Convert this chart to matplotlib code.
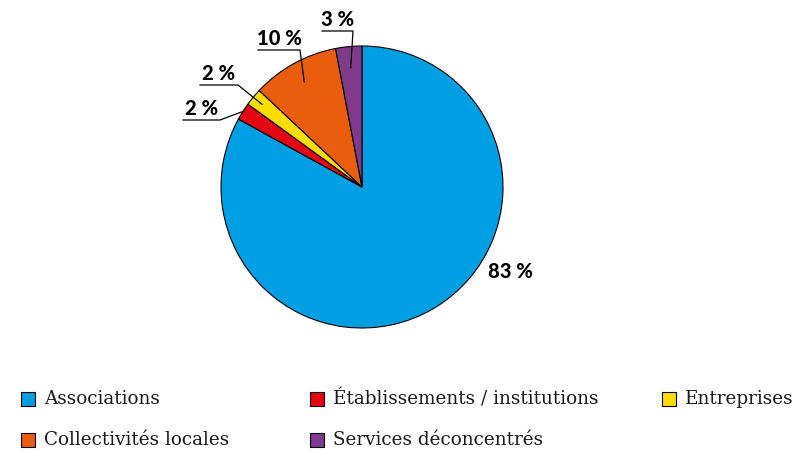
import numpy as np
import matplotlib.pyplot as plt
from matplotlib.patches import Rectangle

categories = ['Associations', 'Établissements / institutions', 'Entreprises',
              'Collectivités locales', 'Services déconcentrés']
values = [83, 2, 2, 10, 3]
labels = ['83 %', '2 %', '2 %', '10 %', '3 %']
colors = ['#009FE3', '#E30613', '#FFDD00', '#E95D0C', '#803A8C']

W, H = 796, 451
fig = plt.figure(figsize=(W / 100, H / 100), dpi=100)
ax = fig.add_axes([0, 0, 1, 1])

# work in pixel units, y going up
cx, cy, r = 362, H - 187, 141
wedges, _ = ax.pie(values, colors=colors, startangle=90, counterclock=False,
                   center=(cx, cy), radius=r,
                   wedgeprops=dict(edgecolor='black', linewidth=0.8))
ax.set_xlim(0, W)
ax.set_ylim(0, H)
ax.set_aspect('equal')
ax.axis('off')

label_font = dict(family='Lato', weight='black', fontsize=14.5, color='black')

# 83 % sits freely outside the big slice
ax.text(510, H - 272, labels[0], ha='center', va='center', **label_font)

# small slices: label above an underline, leader to the slice
# (underline left x, underline right x, underline y, fraction of radius)
leaders = {1: (183, 220, 120, 1.0),
           2: (200, 238, 85, 0.92),
           3: (258, 300, 50, 0.85),
           4: (322, 353, 31, 0.85)}
for i, (x0, x1, yl, f) in leaders.items():
    w = wedges[i]
    mid = np.deg2rad((w.theta1 + w.theta2) / 2)
    ex = cx + f * r * np.cos(mid)
    ey = cy + f * r * np.sin(mid)
    ax.plot([x0, x1, ex], [H - yl, H - yl, ey], color='black', lw=0.9)
    ax.text((x0 + x1) / 2, H - yl + 2, labels[i], ha='center', va='bottom',
            **label_font)

# legend, drawn by hand to keep the uneven column spacing
legend_pos = [(28, 399), (317, 399), (669, 399), (28, 440), (317, 440)]
for (lx, ly), name, c in zip(legend_pos, categories, colors):
    ax.add_patch(Rectangle((lx - 7, H - ly - 7), 14, 14, facecolor=c,
                           edgecolor='black', lw=0.8))
    ax.text(lx + 16, H - ly, name, ha='left', va='center',
            family='DejaVu Serif', fontsize=13.2, color='#1a1a1a')

fig.savefig('out.png', dpi=100)
